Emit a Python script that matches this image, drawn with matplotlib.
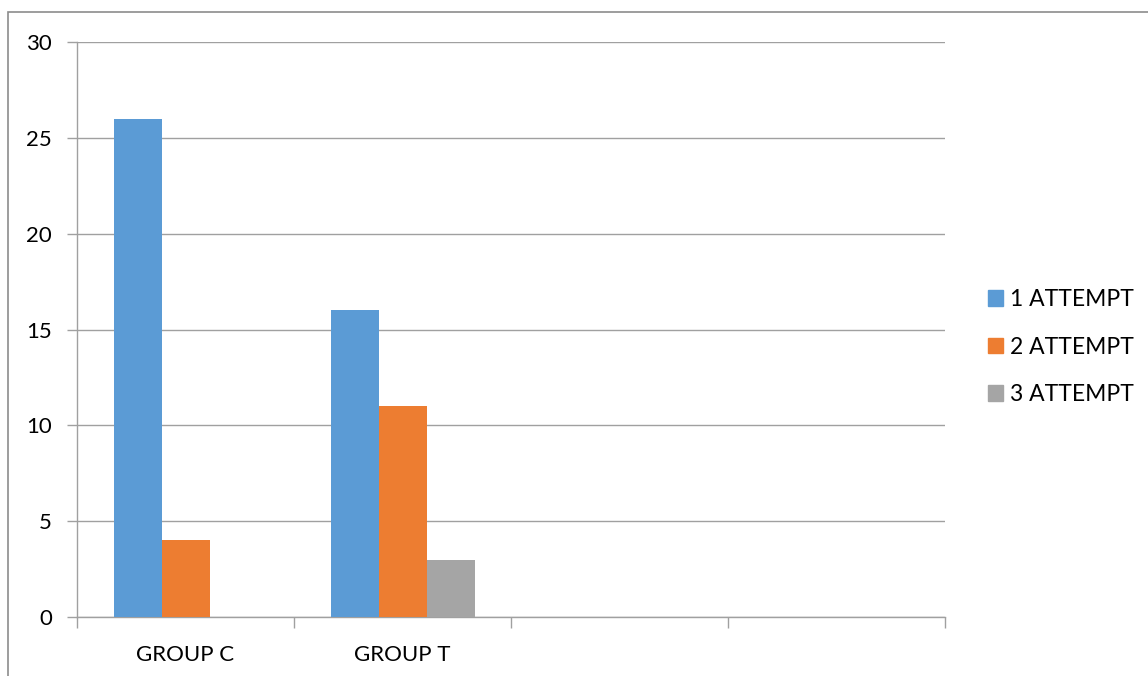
import matplotlib.pyplot as plt
import matplotlib.patches as mpatches
import numpy as np

# data
categories = ['GROUP C', 'GROUP T', '', '']
series_names = ['1 ATTEMPT', '2 ATTEMPT', '3 ATTEMPT']
attempt1 = [26, 16, 0, 0]
attempt2 = [4, 11, 0, 0]
attempt3 = [0, 3, 0, 0]
colors = ['#5B9BD5', '#ED7D31', '#A5A5A5']
yticks = [0, 5, 10, 15, 20, 25, 30]

plt.rcParams['font.family'] = ['Lato', 'DejaVu Sans']
fs = 16

fig = plt.figure(figsize=(11.48, 6.76), dpi=100)
ax = fig.add_axes([77/1148, 1 - 617/676, (945-77)/1148, (617-42)/676])

# outer chart border (only left and top edges are visible in the frame)
fig.patches.append(mpatches.Rectangle((8/1148, -0.1), 2, 1 - 11.5/676 + 0.1,
                                      transform=fig.transFigure, fill=False,
                                      edgecolor='#8C8C8C', linewidth=1.2))

x = np.arange(len(categories)) + 0.5
w = 48 / 217
for i, (vals, name) in enumerate(zip([attempt1, attempt2, attempt3], series_names)):
    ax.bar(x + (i - 1) * w, vals, width=w, color=colors[i], label=name, zorder=3)

ax.set_xlim(0, len(categories))
ax.set_ylim(0, 30)
ax.set_yticks(yticks)
ax.set_yticklabels([str(t) for t in yticks], fontsize=fs)
ax.yaxis.grid(True, color='#A0A0A0', linewidth=1, zorder=0)

# tick marks at category boundaries, labels at category centres
ax.set_xticks(np.arange(len(categories) + 1))
ax.set_xticklabels([''] * (len(categories) + 1))
ax.set_xticks(x, minor=True)
ax.set_xticklabels(categories, minor=True, fontsize=fs)
ax.tick_params(axis='x', which='major', length=8, color='#A0A0A0', width=1)
ax.tick_params(axis='x', which='minor', length=0, pad=20)
ax.tick_params(axis='y', length=7, color='#A0A0A0', width=1, pad=11)

for s in ['top', 'right']:
    ax.spines[s].set_visible(False)
for s in ['left', 'bottom']:
    ax.spines[s].set_color('#A0A0A0')
    ax.spines[s].set_linewidth(1)

handles = [mpatches.Patch(color=c) for c in colors]
fig.legend(handles, series_names, loc='center left', bbox_to_anchor=(988/1148, 1 - 347/676),
           frameon=False, fontsize=16.5, handlelength=0.66, handleheight=0.66,
           handletextpad=0.28, labelspacing=1.15, borderaxespad=0, borderpad=0)

plt.savefig('out.png', dpi=100)
